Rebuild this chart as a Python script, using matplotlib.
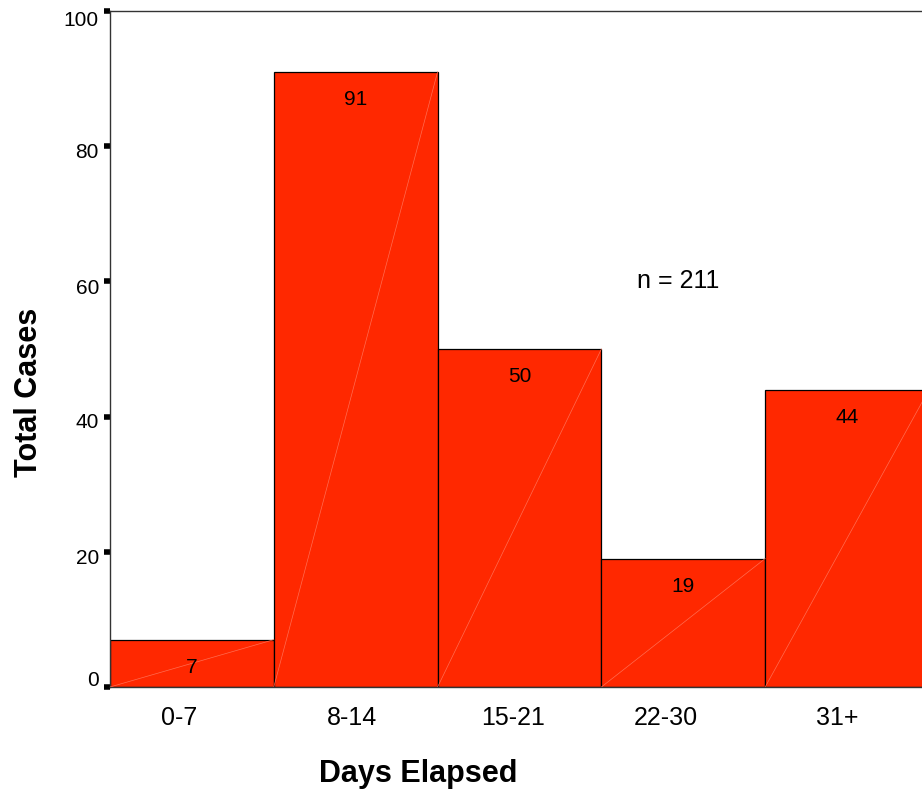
import matplotlib
matplotlib.use("Agg")
import matplotlib.pyplot as plt
import matplotlib.transforms as mtransforms

# data
categories = ["0-7", "8-14", "15-21", "22-30", "31+"]
cases = [7, 91, 50, 19, 44]
yticks = [0, 20, 40, 60, 80, 100]

plt.rcParams['font.family'] = ['Liberation Sans', 'DejaVu Sans']

fig = plt.figure(figsize=(9.22, 7.9), dpi=100)
ax = fig.add_axes([110/922, 1-687/790, 812/922, 676/790])

pos = list(range(len(categories)))
bars = ax.bar(pos, cases, width=1.0, align='edge', color='#ff2800',
              edgecolor='black', linewidth=0.9, zorder=2)

# faint diagonal seams inside each bar
for i, v in enumerate(cases):
    ax.plot([i, i+1], [0, v], color='#ff6d52', lw=0.5, zorder=3)

# value labels near the top of each bar
for i, v in enumerate(cases):
    ax.annotate(str(v), (i+0.5, v), xytext=(0, -24), textcoords='offset points',
                ha='center', va='baseline', fontsize=15, zorder=4)

ax.text(3.47, 59.0, "n = %d" % sum(cases), ha='center', va='baseline', fontsize=18)

ax.set_xlim(0, 812/163.8)
ax.set_ylim(0, 100)
ax.set_yticks(yticks)
ax.set_yticklabels([str(t) for t in yticks])
ax.set_xticks([p+0.5 for p in pos])
ax.set_xticklabels(categories, fontsize=18)
ax.tick_params(axis='x', length=0, pad=14)
ax.tick_params(axis='y', direction='out', length=4, width=4, color='black', labelsize=15, pad=4)

# nudge tick labels the way the reference has them (pixels)
yoffs = [-8, 5, 4, 5, 4, 7]
for lab, d in zip(ax.get_yticklabels(), yoffs):
    lab.set_transform(lab.get_transform() + mtransforms.ScaledTranslation(0, -d/100, fig.dpi_scale_trans))
xoffs = [-13, -4, -6, -17, -10]
for lab, d in zip(ax.get_xticklabels(), xoffs):
    lab.set_transform(lab.get_transform() + mtransforms.ScaledTranslation(d/100, 0, fig.dpi_scale_trans))

for s in ['left', 'top', 'bottom']:
    ax.spines[s].set_color('#333333')
    ax.spines[s].set_linewidth(1.0)
ax.spines['right'].set_visible(False)

fig.text(418/922, 1-782/790, "Days Elapsed", ha='center', va='baseline', fontsize=22, fontweight='bold')
fig.text(37/922, 1-392/790, "Total Cases", ha='center', va='baseline', rotation=90,
         rotation_mode='anchor', fontsize=22, fontweight='bold')

fig.savefig("out.png", dpi=100)
